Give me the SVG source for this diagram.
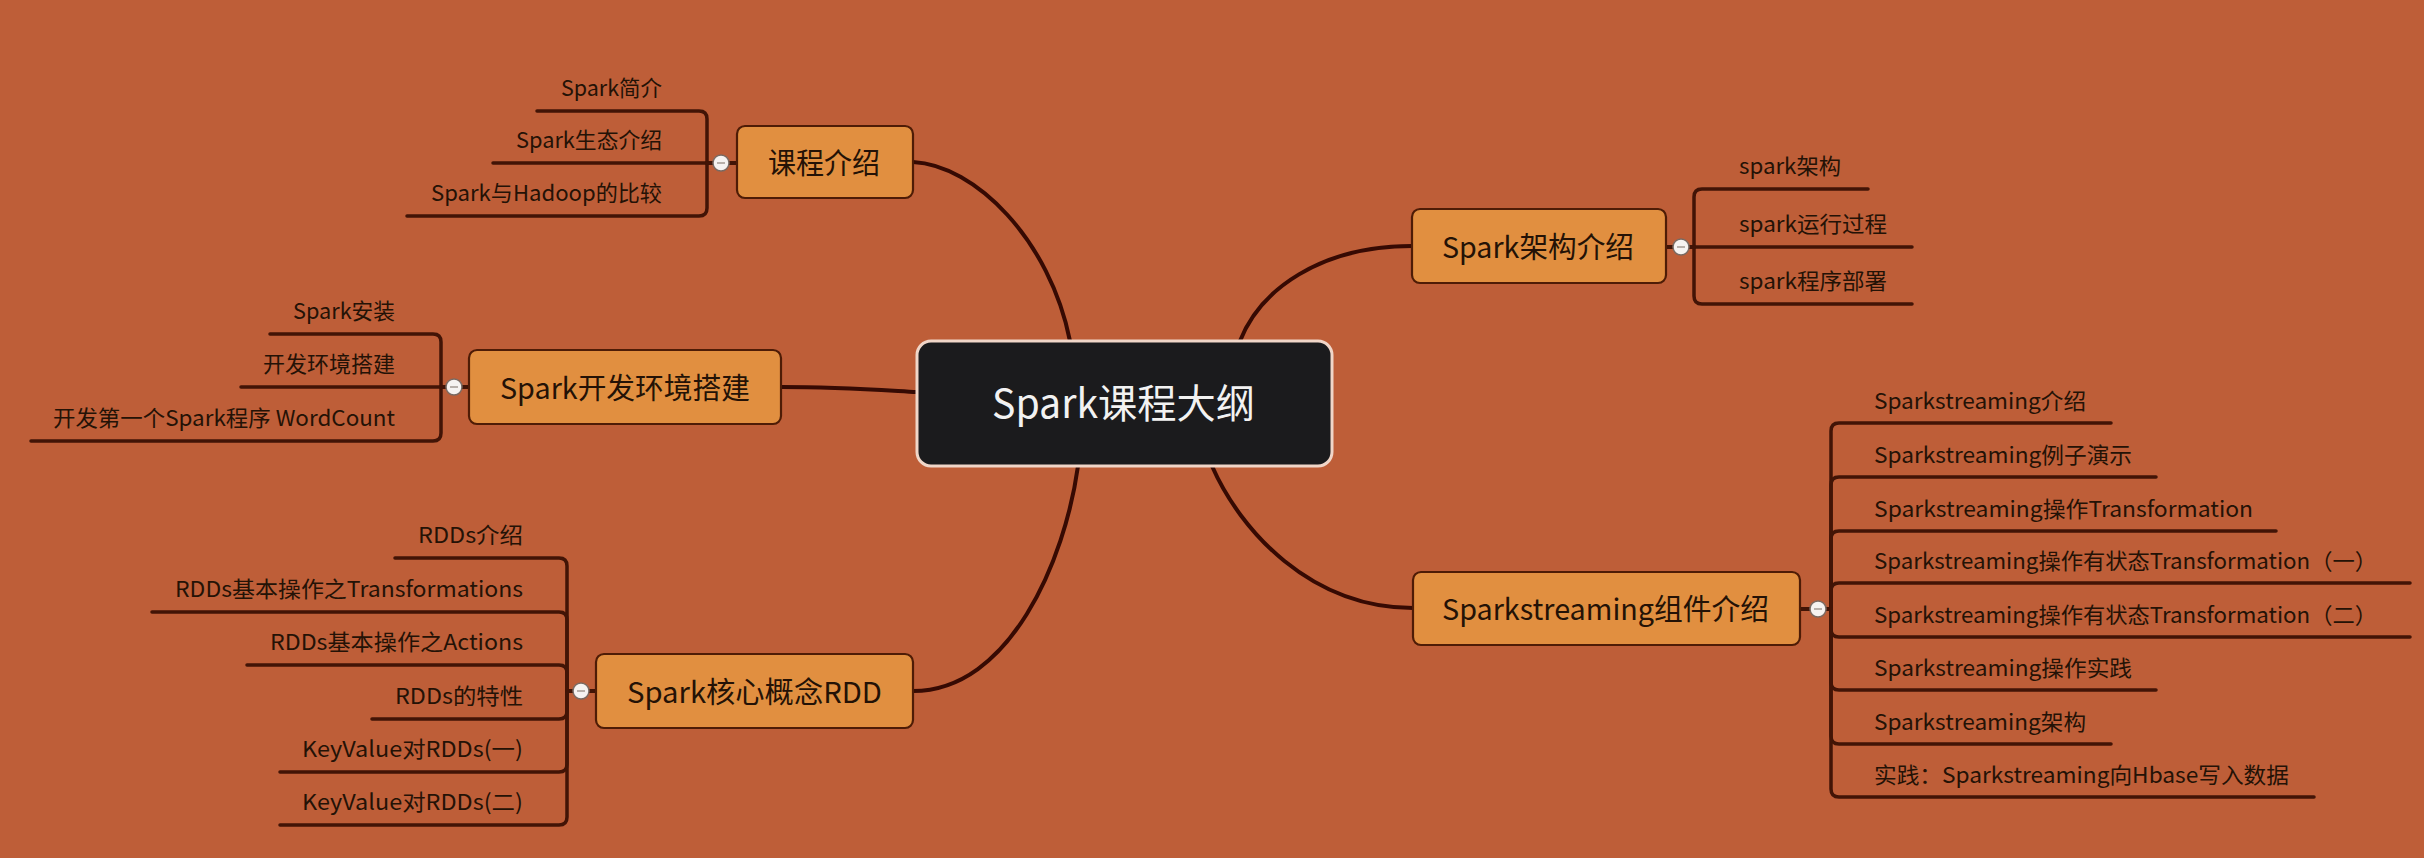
<svg xmlns="http://www.w3.org/2000/svg" width="2424" height="858" viewBox="0 0 2424 858">
<style>
text{font-family:"Noto Sans CJK SC","Noto Sans",sans-serif;fill:#241206}
.sub{font-size:22px}
.main{font-size:29px}
.root{font-size:40px;fill:#f2f2f2}
.box{fill:#E18F40;stroke:#4e1c06;stroke-width:2.2}
.rootbox{fill:#1b1b1d;stroke:#f0d6c8;stroke-width:3}
.trunk{fill:none;stroke:#360a03;stroke-width:4;stroke-linecap:round}
.br{fill:none;stroke:#421406;stroke-width:3.5;stroke-linecap:round}
.tog{fill:#f6f3f1;stroke:#7a6a62;stroke-width:1.5}
.dash{stroke:#b8b0aa;stroke-width:2}
</style>
<rect x="0" y="0" width="2424" height="858" fill="#BE5E38"/>

<g id="connectors">
  <path class="trunk" d="M913,162 C975,165 1050,240 1070,341"/>
  <path class="trunk" d="M781,387 C840,387 880,390 917,392"/>
  <path class="trunk" d="M913,691 C1010,691 1065,560 1078,466"/>
  <path class="trunk" d="M1412,246 C1320,246 1260,290 1240,341"/>
  <path class="trunk" d="M1413,608 C1310,608 1240,530 1212,466"/>

  <path class="br" d="M737,163 H707 V119 Q707,111 699,111 H537"/>
  <path class="br" d="M737,163 H493"/>
  <path class="br" d="M737,163 H707 V208 Q707,216 699,216 H407"/>

  <path class="br" d="M469,387 H441 V342 Q441,334 433,334 H270"/>
  <path class="br" d="M469,387 H241"/>
  <path class="br" d="M469,387 H441 V433 Q441,441 433,441 H31"/>

  <path class="br" d="M596,691 H567 V566 Q567,558 559,558 H395"/>
  <path class="br" d="M596,691 H567 V620 Q567,612 559,612 H152"/>
  <path class="br" d="M596,691 H567 V673 Q567,665 559,665 H247"/>
  <path class="br" d="M596,691 H567 V711 Q567,719 559,719 H372"/>
  <path class="br" d="M596,691 H567 V764 Q567,772 559,772 H280"/>
  <path class="br" d="M596,691 H567 V817 Q567,825 559,825 H280"/>

  <path class="br" d="M1666,247 H1694 V197 Q1694,189 1702,189 H1868"/>
  <path class="br" d="M1666,247 H1912"/>
  <path class="br" d="M1666,247 H1694 V296 Q1694,304 1702,304 H1912"/>

  <path class="br" d="M1800,609 H1831 V431 Q1831,423 1839,423 H2111"/>
  <path class="br" d="M1800,609 H1831 V485 Q1831,477 1839,477 H2156"/>
  <path class="br" d="M1800,609 H1831 V539 Q1831,531 1839,531 H2276"/>
  <path class="br" d="M1800,609 H1831 V591 Q1831,583 1839,583 H2410"/>
  <path class="br" d="M1800,609 H1831 V629 Q1831,637 1839,637 H2410"/>
  <path class="br" d="M1800,609 H1831 V682 Q1831,690 1839,690 H2156"/>
  <path class="br" d="M1800,609 H1831 V736 Q1831,744 1839,744 H2111"/>
  <path class="br" d="M1800,609 H1831 V789 Q1831,797 1839,797 H2314"/>
</g>

<g id="root">
  <rect class="rootbox" x="917" y="341" width="415" height="125" rx="14"/>
  <text class="root" x="992" y="418" textLength="263" lengthAdjust="spacingAndGlyphs">Spark课程大纲</text>
</g>

<g id="topic-course">
  <rect class="box" x="737" y="126" width="176" height="72" rx="8"/>
  <text class="main" x="768" y="174" textLength="112" lengthAdjust="spacingAndGlyphs">课程介绍</text>
  <circle class="tog" cx="721" cy="163" r="8"/><line class="dash" x1="717" y1="163" x2="725" y2="163"/>
</g>
<g id="course-children">
  <text class="sub" x="561" y="96" textLength="101" lengthAdjust="spacingAndGlyphs">Spark简介</text>
  <text class="sub" x="516" y="148" textLength="146" lengthAdjust="spacingAndGlyphs">Spark生态介绍</text>
  <text class="sub" x="431" y="201" textLength="231" lengthAdjust="spacingAndGlyphs">Spark与Hadoop的比较</text>
</g>

<g id="topic-env">
  <rect class="box" x="469" y="350" width="312" height="74" rx="8"/>
  <text class="main" x="500" y="399" textLength="250" lengthAdjust="spacingAndGlyphs">Spark开发环境搭建</text>
  <circle class="tog" cx="454" cy="387" r="8"/><line class="dash" x1="450" y1="387" x2="458" y2="387"/>
</g>
<g id="env-children">
  <text class="sub" x="293" y="319" textLength="102" lengthAdjust="spacingAndGlyphs">Spark安装</text>
  <text class="sub" x="263" y="372" textLength="132" lengthAdjust="spacingAndGlyphs">开发环境搭建</text>
  <text class="sub" x="53" y="426" textLength="342" lengthAdjust="spacingAndGlyphs">开发第一个Spark程序 WordCount</text>
</g>

<g id="topic-rdd">
  <rect class="box" x="596" y="654" width="317" height="74" rx="8"/>
  <text class="main" x="627" y="703" textLength="255" lengthAdjust="spacingAndGlyphs">Spark核心概念RDD</text>
  <circle class="tog" cx="581" cy="691" r="8"/><line class="dash" x1="577" y1="691" x2="585" y2="691"/>
</g>
<g id="rdd-children">
  <text class="sub" x="418" y="543" textLength="105" lengthAdjust="spacingAndGlyphs">RDDs介绍</text>
  <text class="sub" x="175" y="597" textLength="348" lengthAdjust="spacingAndGlyphs">RDDs基本操作之Transformations</text>
  <text class="sub" x="270" y="650" textLength="253" lengthAdjust="spacingAndGlyphs">RDDs基本操作之Actions</text>
  <text class="sub" x="395" y="704" textLength="128" lengthAdjust="spacingAndGlyphs">RDDs的特性</text>
  <text class="sub" x="302" y="757" textLength="221" lengthAdjust="spacingAndGlyphs">KeyValue对RDDs(一)</text>
  <text class="sub" x="302" y="810" textLength="221" lengthAdjust="spacingAndGlyphs">KeyValue对RDDs(二)</text>
</g>

<g id="topic-arch">
  <rect class="box" x="1412" y="209" width="254" height="74" rx="8"/>
  <text class="main" x="1442" y="258" textLength="192" lengthAdjust="spacingAndGlyphs">Spark架构介绍</text>
  <circle class="tog" cx="1681" cy="247" r="8"/><line class="dash" x1="1677" y1="247" x2="1685" y2="247"/>
</g>
<g id="arch-children">
  <text class="sub" x="1739" y="174" textLength="102" lengthAdjust="spacingAndGlyphs">spark架构</text>
  <text class="sub" x="1739" y="232" textLength="148" lengthAdjust="spacingAndGlyphs">spark运行过程</text>
  <text class="sub" x="1739" y="289" textLength="148" lengthAdjust="spacingAndGlyphs">spark程序部署</text>
</g>

<g id="topic-streaming">
  <rect class="box" x="1413" y="572" width="387" height="73" rx="8"/>
  <text class="main" x="1442" y="620" textLength="327" lengthAdjust="spacingAndGlyphs">Sparkstreaming组件介绍</text>
  <circle class="tog" cx="1818" cy="609" r="8"/><line class="dash" x1="1814" y1="609" x2="1822" y2="609"/>
</g>
<g id="streaming-children">
  <text class="sub" x="1874" y="409" textLength="212" lengthAdjust="spacingAndGlyphs">Sparkstreaming介绍</text>
  <text class="sub" x="1874" y="463" textLength="258" lengthAdjust="spacingAndGlyphs">Sparkstreaming例子演示</text>
  <text class="sub" x="1874" y="517" textLength="379" lengthAdjust="spacingAndGlyphs">Sparkstreaming操作Transformation</text>
  <text class="sub" x="1874" y="569" textLength="503" lengthAdjust="spacingAndGlyphs">Sparkstreaming操作有状态Transformation（一）</text>
  <text class="sub" x="1874" y="623" textLength="503" lengthAdjust="spacingAndGlyphs">Sparkstreaming操作有状态Transformation（二）</text>
  <text class="sub" x="1874" y="676" textLength="258" lengthAdjust="spacingAndGlyphs">Sparkstreaming操作实践</text>
  <text class="sub" x="1874" y="730" textLength="212" lengthAdjust="spacingAndGlyphs">Sparkstreaming架构</text>
  <text class="sub" x="1874" y="783" textLength="415" lengthAdjust="spacingAndGlyphs">实践：Sparkstreaming向Hbase写入数据</text>
</g>
</svg>
